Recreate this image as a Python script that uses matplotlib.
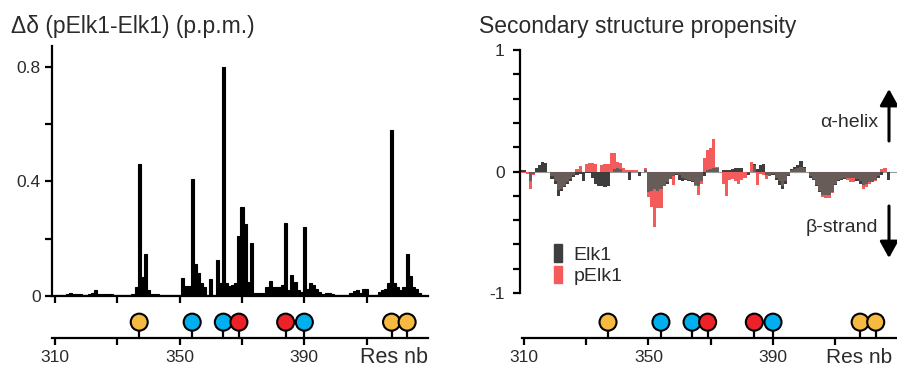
import numpy as np
import matplotlib
matplotlib.use("Agg")
from matplotlib import pyplot as plt
from matplotlib.patches import Patch

plt.rcParams['font.family'] = ['Liberation Sans', 'DejaVu Sans']

# Residue positions as shown on the x axis (one bar per residue)
res_dd = np.arange(310, 429)
# Chemical shift difference pElk1 - Elk1 (p.p.m.)
delta_dd = [
    0.005, 0.004, 0.005, 0.005, 0.006, 0.009, 0.006, 0.006, 0.006, 0.005,   # 310-319
    0.005, 0.006, 0.012, 0.020, 0.007, 0.007, 0.007, 0.007, 0.006, 0.005,   # 320-329
    0.004, 0.004, 0.004, 0.004, 0.005, 0.006, 0.030, 0.460, 0.065, 0.148,   # 330-339
    0.020, 0.006, 0.006, 0.006, 0.005, 0.005, 0.005, 0.004, 0.004, 0.004,   # 340-349
    0.004, 0.063, 0.034, 0.036, 0.410, 0.113, 0.079, 0.045, 0.033, 0.004,   # 350-359
    0.058, 0.005, 0.126, 0.045, 0.800, 0.045, 0.035, 0.038, 0.045, 0.210,   # 360-369
    0.310, 0.250, 0.050, 0.186, 0.010, 0.010, 0.012, 0.012, 0.030, 0.052,   # 370-379
    0.033, 0.030, 0.030, 0.040, 0.256, 0.020, 0.073, 0.050, 0.020, 0.015,   # 380-389
    0.240, 0.023, 0.044, 0.040, 0.026, 0.014, 0.006, 0.011, 0.011, 0.006,   # 390-399
    0.003, 0.003, 0.003, 0.003, 0.004, 0.010, 0.016, 0.022, 0.010, 0.026,   # 400-409
    0.026, 0.003, 0.003, 0.005, 0.014, 0.022, 0.026, 0.047, 0.580, 0.047,   # 410-419
    0.030, 0.020, 0.030, 0.146, 0.070, 0.030, 0.026, 0.010, 0.004,          # 420-428
]

# Secondary structure propensity
res_ssp = np.arange(309, 428)
ssp_elk1 = [
    0.01, 0.01, 0.00, -0.08, -0.02, 0.03, 0.055, 0.077, 0.07, 0.00,          # 309-318
    -0.06, -0.10, -0.20, -0.16, -0.13, -0.10, -0.075, -0.045, -0.03, -0.02,  # 319-328
    -0.075, -0.01, -0.01, -0.05, -0.10, -0.12, -0.12, -0.13, -0.12, 0.00,    # 329-338
    0.02, 0.03, 0.02, 0.00, 0.00, -0.07, 0.00, 0.00, -0.04, 0.00,            # 339-348
    0.01, -0.17, -0.16, -0.14, -0.16, -0.14, -0.12, -0.10, -0.06, -0.04,     # 349-358
    -0.03, -0.07, -0.075, -0.07, -0.075, -0.09, -0.11, -0.12, -0.08, -0.04,  # 359-368
    0.01, 0.02, 0.03, 0.03, 0.00, 0.01, 0.01, 0.015, 0.02, 0.03,             # 369-378
    0.03, 0.025, 0.00, -0.03, 0.00, 0.06, 0.02, 0.055, 0.06, -0.03,          # 379-388
    -0.04, -0.03, -0.07, -0.11, -0.14, -0.10, -0.04, 0.02, 0.035, 0.055,     # 389-398
    0.085, 0.04, 0.00, -0.05, -0.07, -0.12, -0.17, -0.19, -0.19, -0.19,      # 399-408
    -0.17, -0.11, -0.08, -0.07, -0.06, -0.05, -0.05, -0.05, -0.08, -0.10,    # 409-418
    -0.11, -0.10, -0.09, -0.09, -0.07, -0.05, -0.03, 0.00, -0.07,            # 419-427
]
ssp_pelk1 = [
    -0.01, -0.015, -0.02, -0.145, -0.03, 0.00, 0.00, 0.00, 0.00, 0.00,       # 309-318
    -0.04, -0.08, -0.15, -0.14, -0.12, -0.09, -0.06, -0.03, 0.02, 0.045,     # 319-328
    0.00, 0.06, 0.07, 0.07, 0.06, 0.00, 0.05, 0.06, 0.06, 0.15,              # 329-338
    0.155, 0.075, 0.07, 0.03, 0.01, 0.01, 0.015, 0.015, 0.00, 0.00,          # 339-348
    0.025, -0.21, -0.29, -0.46, -0.30, -0.30, -0.12, -0.09, -0.06, -0.11,    # 349-358
    -0.02, -0.03, -0.05, -0.06, -0.07, -0.08, -0.12, -0.19, -0.10, 0.11,     # 359-368
    0.18, 0.19, 0.27, 0.04, 0.00, -0.10, -0.20, -0.07, -0.06, -0.08,         # 369-378
    -0.10, -0.07, -0.055, -0.01, 0.075, 0.05, -0.11, -0.02, -0.03, -0.06,    # 379-388
    -0.04, -0.02, -0.05, -0.08, -0.12, -0.08, -0.03, 0.01, 0.02, 0.03,       # 389-398
    0.04, 0.03, 0.00, -0.04, -0.06, -0.11, -0.16, -0.21, -0.22, -0.22,       # 399-408
    -0.18, -0.10, -0.07, -0.06, -0.05, -0.07, -0.09, -0.09, -0.06, -0.08,    # 409-418
    -0.14, -0.13, -0.10, -0.09, -0.08, -0.04, 0.02, 0.03, 0.00,              # 419-427
]

# Phosphorylation sites (positions as drawn) and their colour class
site_pos = [337, 354, 364, 369, 384, 390, 418, 423]
site_col = ['#f6b942', '#00b0ee', '#00b0ee', '#ec2228', '#ec2228', '#00b0ee', '#f6b942', '#f6b942']

txt = '#2b2b2b'
W, H = 897, 369
fig = plt.figure(figsize=(W / 100, H / 100), dpi=100)


def px(x0, y0, x1, y1):
    # axes rectangle from pixel box (top-left origin)
    return [x0 / W, 1 - y1 / H, (x1 - x0) / W, (y1 - y0) / H]


def style_axis(ax):
    for s in ['top', 'right']:
        ax.spines[s].set_visible(False)
    for s in ['left', 'bottom']:
        ax.spines[s].set_linewidth(1.6)
    ax.tick_params(width=1.6, length=5, colors='black', labelcolor=txt, labelsize=12.5)


def lollipops(ax, xlim):
    ax.set_xlim(*xlim)
    ax.set_ylim(0, 1)
    for s in ['top', 'right', 'left']:
        ax.spines[s].set_visible(False)
    ax.spines['bottom'].set_linewidth(1.6)
    ax.set_yticks([])
    ax.set_xticks([310, 330, 350, 370, 390, 410])
    ax.set_xticklabels(['310', '', '350', '', '390', ''])
    ax.tick_params(axis='x', width=1.6, length=5, pad=4, colors='black',
                   labelcolor=txt, labelsize=12.5)
    ax.vlines(site_pos, 0, 0.48, color='black', lw=1.6, clip_on=False)
    ax.scatter(site_pos, [0.48] * len(site_pos), s=150, c=site_col,
               edgecolors='black', linewidths=1.5, zorder=3, clip_on=False)
    ax.patch.set_alpha(0)


# ---------------- left: chemical shift differences ----------------
ax1 = fig.add_axes(px(52, 46, 428, 296))
ax1.bar(res_dd, delta_dd, width=1.0, color='black', edgecolor='black', linewidth=0.8)
ax1.set_xlim(309.0, 429.7)
ax1.set_ylim(0, 0.873)
style_axis(ax1)
ax1.tick_params(axis='y', pad=3)
ax1.set_yticks([0, 0.2, 0.4, 0.6, 0.8])
ax1.set_yticklabels(['0', '', '0.4', '', '0.8'])
ax1.set_xticks([310, 330, 350, 370, 390, 410])
ax1.set_xticklabels([])
fig.text(11 / W, 1 - 33 / H, 'Δδ (pElk1-Elk1) (p.p.m.)', fontsize=16.5,
         color=txt, va='baseline', ha='left')

ax1b = fig.add_axes(px(52, 305, 428, 338))
lollipops(ax1b, (309.0, 429.7))
fig.text(360 / W, 1 - 363 / H, 'Res nb', fontsize=15.5, color=txt, va='baseline')

# ---------------- right: secondary structure propensity ----------------
e = np.array(ssp_elk1)
p = np.array(ssp_pelk1)
same = np.sign(e) == np.sign(p)
both = np.where(same, np.sign(e) * np.minimum(np.abs(e), np.abs(p)), 0)

ax2 = fig.add_axes(px(520, 50, 897.5, 293))
ax2.axhline(0, color='#9a9a9a', lw=0.8, zorder=0)
ax2.bar(res_ssp, e, width=1.0, color='#3e3e3e', linewidth=0)
ax2.bar(res_ssp, p, width=1.0, color='#f45c5c', linewidth=0)
ax2.bar(res_ssp, both, width=1.0, color='#685c58', linewidth=0)
ax2.set_xlim(308.7, 430)
ax2.set_ylim(-1, 1)
style_axis(ax2)
ax2.spines['bottom'].set_visible(False)
ax2.set_xticks([])
ax2.tick_params(axis='y', pad=6)
ax2.set_yticks(np.linspace(-1, 1, 11))
ax2.set_yticklabels(['-1', '', '', '', '', '0', '', '', '', '', '1'])
ax2.legend(handles=[Patch(color='#3e3e3e', label='Elk1'),
                    Patch(color='#f45c5c', label='pElk1')],
           loc='center left', bbox_to_anchor=(0.065, 0.117), frameon=False,
           fontsize=14, handlelength=0.4, handleheight=1.0, handletextpad=0.6,
           labelspacing=0.1, borderpad=0, labelcolor=txt)
fig.text(479 / W, 1 - 33 / H, 'Secondary structure propensity', fontsize=16.5,
         color=txt, va='baseline', ha='left')

# helix / strand arrows
arrow = dict(arrowstyle='-|>,head_length=0.45,head_width=0.25', lw=2.2,
             color='black', mutation_scale=22, shrinkA=0, shrinkB=0)
fig.add_artist(plt.Annotation('', xy=(889, H - 89), xytext=(889, H - 141),
                              xycoords='figure pixels', arrowprops=arrow))
fig.add_artist(plt.Annotation('', xy=(889, H - 258), xytext=(889, H - 206),
                              xycoords='figure pixels', arrowprops=arrow))
fig.text(878 / W, 1 - 123 / H, 'α-helix', fontsize=14, color=txt, ha='right', va='center')
fig.text(878 / W, 1 - 227 / H, 'β-strand', fontsize=14, color=txt, ha='right', va='center')

ax2b = fig.add_axes(px(522, 305, 897, 338))
lollipops(ax2b, (309.36, 429.84))
fig.text(826 / W, 1 - 363 / H, 'Res nb', fontsize=15, color=txt, va='baseline')

fig.savefig('out.png', dpi=100)
